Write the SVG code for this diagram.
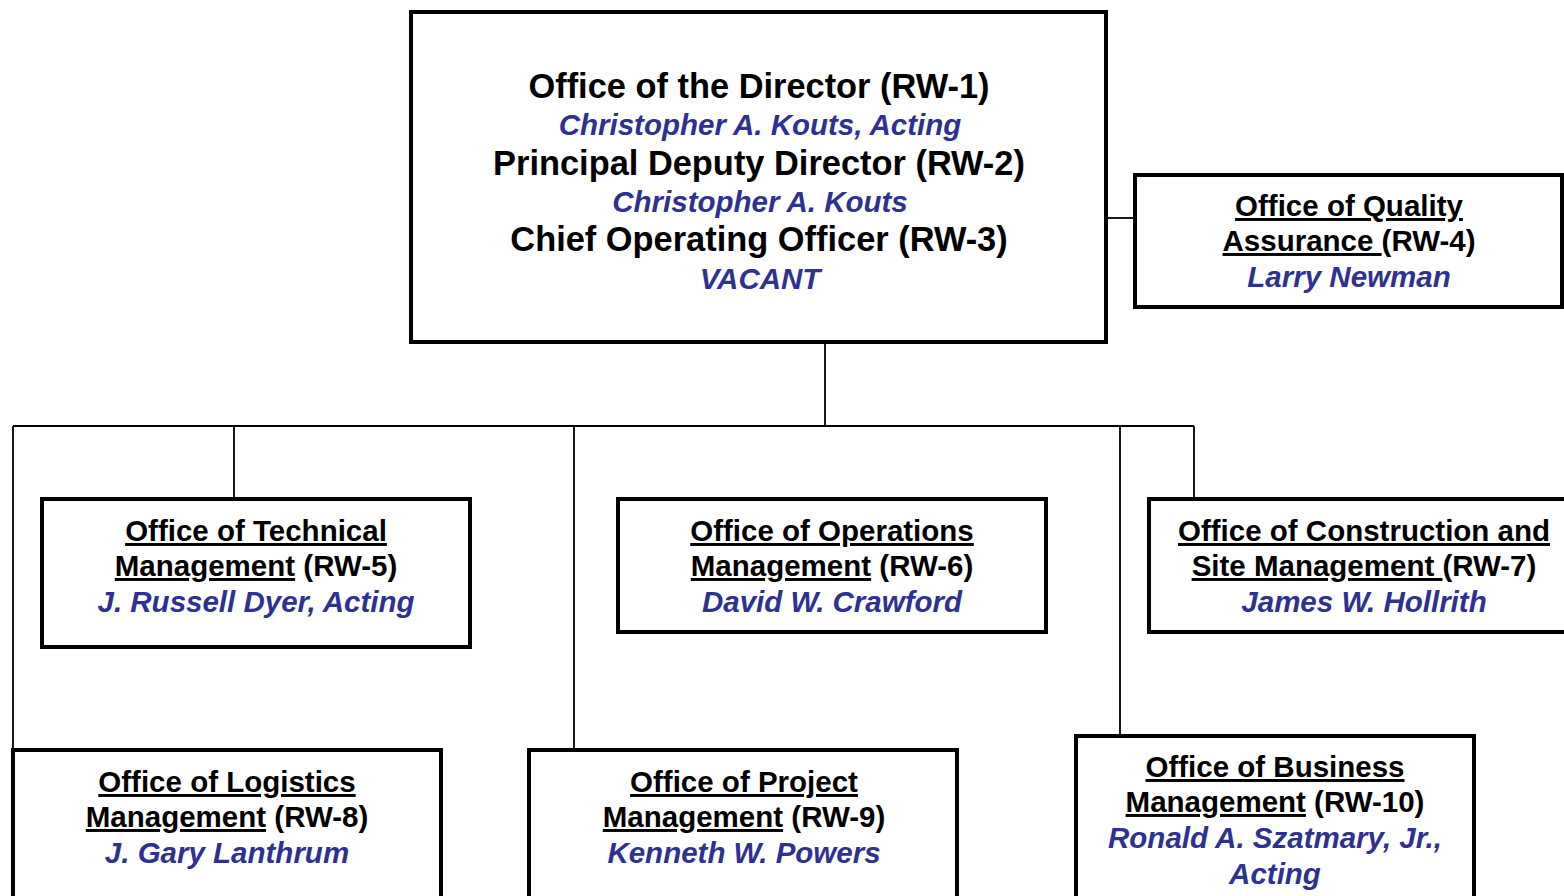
<svg xmlns="http://www.w3.org/2000/svg" width="1564" height="896" viewBox="0 0 1564 896">
  <style>
    .box { fill: #ffffff; stroke: #000000; stroke-width: 4; }
    .wire { fill: none; stroke: #000000; stroke-width: 1.8; }
    text { font-family: "Liberation Sans", Arial, sans-serif; font-weight: bold; text-anchor: middle; }
    .title { font-size: 34.4px; fill: #000000; }
    .head { font-size: 29.5px; fill: #000000; }
    .name { font-size: 29.5px; font-style: italic; fill: #2e3192; }
    .u { text-decoration: underline; text-decoration-skip-ink: none; }
  </style>

  <rect width="1564" height="896" fill="#ffffff"/>

  <g id="connectors">
    <line class="wire" x1="1107" y1="218" x2="1134" y2="218"/>
    <line class="wire" x1="825" y1="343" x2="825" y2="426"/>
    <line class="wire" x1="13" y1="426" x2="1194" y2="426"/>
    <line class="wire" x1="13" y1="426" x2="13" y2="749"/>
    <line class="wire" x1="234" y1="426" x2="234" y2="498"/>
    <line class="wire" x1="574" y1="426" x2="574" y2="749"/>
    <line class="wire" x1="1120" y1="426" x2="1120" y2="735"/>
    <line class="wire" x1="1194" y1="426" x2="1194" y2="498"/>
  </g>

  <g id="rw1">
    <rect class="box" x="411" y="12" width="695" height="330"/>
    <text class="title" x="759" y="98">Office of the Director (RW-1)</text>
    <text class="name" x="760" y="135">Christopher A. Kouts, Acting</text>
    <text class="title" x="759" y="175">Principal Deputy Director (RW-2)</text>
    <text class="name" x="760" y="212">Christopher A. Kouts</text>
    <text class="title" x="759" y="251">Chief Operating Officer (RW-3)</text>
    <text class="name" x="760" y="289">VACANT</text>
  </g>

  <g id="rw4">
    <rect class="box" x="1135" y="175" width="427" height="132"/>
    <text class="head" x="1349" y="216"><tspan class="u">Office of Quality</tspan></text>
    <text class="head" x="1349" y="251"><tspan class="u">Assurance </tspan>(RW-4)</text>
    <text class="name" x="1349" y="287">Larry Newman</text>
  </g>

  <g id="rw5">
    <rect class="box" x="42" y="499" width="428" height="148"/>
    <text class="head" x="256" y="541"><tspan class="u">Office of Technical</tspan></text>
    <text class="head" x="256" y="576"><tspan class="u">Management</tspan> (RW-5)</text>
    <text class="name" x="256" y="612">J. Russell Dyer, Acting</text>
  </g>

  <g id="rw6">
    <rect class="box" x="618" y="499" width="428" height="133"/>
    <text class="head" x="832" y="541"><tspan class="u">Office of Operations</tspan></text>
    <text class="head" x="832" y="576"><tspan class="u">Management</tspan> (RW-6)</text>
    <text class="name" x="832" y="612">David W. Crawford</text>
  </g>

  <g id="rw7">
    <rect class="box" x="1149" y="499" width="420" height="133"/>
    <text class="head" x="1364" y="541"><tspan class="u">Office of Construction and</tspan></text>
    <text class="head" x="1364" y="576"><tspan class="u">Site Management </tspan>(RW-7)</text>
    <text class="name" x="1364" y="612">James W. Hollrith</text>
  </g>

  <g id="rw8">
    <rect class="box" x="13" y="750" width="428" height="160"/>
    <text class="head" x="227" y="792"><tspan class="u">Office of Logistics</tspan></text>
    <text class="head" x="227" y="827"><tspan class="u">Management</tspan> (RW-8)</text>
    <text class="name" x="227" y="863">J. Gary Lanthrum</text>
  </g>

  <g id="rw9">
    <rect class="box" x="529" y="750" width="428" height="160"/>
    <text class="head" x="744" y="792"><tspan class="u">Office of Project</tspan></text>
    <text class="head" x="744" y="827"><tspan class="u">Management</tspan> (RW-9)</text>
    <text class="name" x="744" y="863">Kenneth W. Powers</text>
  </g>

  <g id="rw10">
    <rect class="box" x="1076" y="736" width="398" height="174"/>
    <text class="head" x="1275" y="777"><tspan class="u">Office of Business</tspan></text>
    <text class="head" x="1275" y="812"><tspan class="u">Management</tspan> (RW-10)</text>
    <text class="name" x="1275" y="848">Ronald A. Szatmary, Jr.,</text>
    <text class="name" x="1275" y="884">Acting</text>
  </g>
</svg>
